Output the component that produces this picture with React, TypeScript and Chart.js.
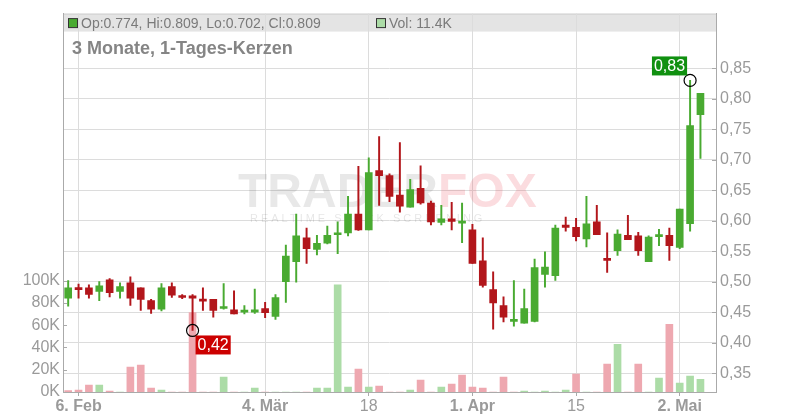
import React, { useEffect, useRef } from 'react';
import { Chart, registerables } from 'chart.js';

Chart.register(...registerables);

// Trading days (Frankfurt), plus one empty slot at the right
const dates = [
  '2025-02-05', '2025-02-06', '2025-02-07', '2025-02-10', '2025-02-11', '2025-02-12', '2025-02-13', '2025-02-14',
  '2025-02-17', '2025-02-18', '2025-02-19', '2025-02-20', '2025-02-21', '2025-02-24', '2025-02-25', '2025-02-26',
  '2025-02-27', '2025-02-28', '2025-03-03', '2025-03-04', '2025-03-05', '2025-03-06', '2025-03-07', '2025-03-10',
  '2025-03-11', '2025-03-12', '2025-03-13', '2025-03-14', '2025-03-17', '2025-03-18', '2025-03-19', '2025-03-20',
  '2025-03-21', '2025-03-24', '2025-03-25', '2025-03-26', '2025-03-27', '2025-03-28', '2025-03-31', '2025-04-01',
  '2025-04-02', '2025-04-03', '2025-04-04', '2025-04-07', '2025-04-08', '2025-04-09', '2025-04-10', '2025-04-11',
  '2025-04-14', '2025-04-15', '2025-04-16', '2025-04-17', '2025-04-22', '2025-04-23', '2025-04-24', '2025-04-25',
  '2025-04-28', '2025-04-29', '2025-04-30', '2025-05-02', '2025-05-05', '2025-05-06', '2025-05-07',
];

const tickLabels: Record<string, string> = {
  '2025-02-06': '6. Feb',
  '2025-03-04': '4. Mär',
  '2025-03-18': '18',
  '2025-04-01': '1. Apr',
  '2025-04-15': '15',
  '2025-05-02': '2. Mai',
};
const boldTicks = ['2025-02-06', '2025-03-04', '2025-04-01', '2025-05-02'];

const open = [
  0.473, 0.488, 0.490, 0.484, 0.503, 0.484, 0.498, 0.490, 0.469, 0.455, 0.492, 0.477, 0.477, 0.471, 0.471, 0.456,
  0.454, 0.450, 0.450, 0.456, 0.443, 0.500, 0.533, 0.572, 0.553, 0.563, 0.577, 0.580, 0.611, 0.585, 0.682, 0.674,
  0.642, 0.622, 0.653, 0.629, 0.597, 0.603, 0.596, 0.585, 0.534, 0.487, 0.461, 0.435, 0.432, 0.435, 0.512, 0.510,
  0.593, 0.589, 0.570, 0.598, 0.537, 0.551, 0.576, 0.575, 0.533, 0.574, 0.576, 0.556, 0.595, 0.774,
];
const high = [
  0.502, 0.496, 0.495, 0.500, 0.505, 0.498, 0.508, 0.490, 0.471, 0.497, 0.498, 0.479, 0.479, 0.490, 0.471, 0.497,
  0.485, 0.461, 0.488, 0.466, 0.479, 0.560, 0.611, 0.588, 0.576, 0.591, 0.598, 0.640, 0.689, 0.703, 0.738, 0.677,
  0.728, 0.668, 0.690, 0.632, 0.625, 0.630, 0.629, 0.594, 0.572, 0.516, 0.475, 0.502, 0.488, 0.537, 0.549, 0.593,
  0.606, 0.604, 0.640, 0.625, 0.580, 0.585, 0.609, 0.581, 0.575, 0.586, 0.588, 0.619, 0.830, 0.809,
];
const low = [
  0.460, 0.473, 0.473, 0.469, 0.475, 0.473, 0.461, 0.453, 0.448, 0.452, 0.474, 0.472, 0.420, 0.453, 0.442, 0.455,
  0.447, 0.447, 0.448, 0.441, 0.438, 0.466, 0.499, 0.530, 0.544, 0.562, 0.546, 0.575, 0.584, 0.585, 0.625, 0.631,
  0.614, 0.622, 0.627, 0.593, 0.593, 0.585, 0.564, 0.530, 0.491, 0.422, 0.434, 0.427, 0.432, 0.434, 0.491, 0.502,
  0.583, 0.567, 0.557, 0.577, 0.515, 0.543, 0.569, 0.543, 0.533, 0.559, 0.535, 0.554, 0.583, 0.702,
];
const close = [
  0.490, 0.487, 0.479, 0.493, 0.482, 0.492, 0.473, 0.471, 0.455, 0.490, 0.478, 0.474, 0.473, 0.468, 0.453, 0.458,
  0.447, 0.453, 0.454, 0.449, 0.474, 0.542, 0.575, 0.554, 0.563, 0.576, 0.580, 0.611, 0.585, 0.679, 0.674, 0.640,
  0.624, 0.651, 0.629, 0.598, 0.603, 0.599, 0.598, 0.530, 0.494, 0.465, 0.442, 0.436, 0.456, 0.523, 0.524, 0.588,
  0.589, 0.574, 0.595, 0.577, 0.535, 0.578, 0.569, 0.551, 0.573, 0.575, 0.559, 0.619, 0.756, 0.809,
];
// volume in thousands
const volumeK = [
  1.2, 1.8, 6.3, 6.3, 0.9, 0, 22.3, 24.1, 3.6, 1.8, 0, 0, 71.4, 0, 0, 13.4,
  0, 0, 3.6, 0, 0, 0, 0, 0, 3.6, 3.6, 96.4, 4.5, 20.5, 4.5, 5.4, 0,
  0, 1.8, 10.7, 0, 4.5, 7.1, 15.2, 4.5, 3.6, 0, 13.4, 0, 0.9, 0, 0.9, 0,
  1.8, 16.1, 0, 0, 25.0, 42.9, 0, 25.0, 0, 12.5, 60.7, 8.0, 14.3, 11.4,
];

const priceTicks = [0.35, 0.4, 0.45, 0.5, 0.55, 0.6, 0.65, 0.7, 0.75, 0.8, 0.85];
const volumeTicksK = [0, 20, 40, 60, 80, 100];

const GREEN = '#49aa31';
const RED = '#b2161b';
const VOL_GREEN = '#acdca7';
const VOL_RED = '#eea8b0';
const FONT = '"Liberation Sans", Arial, sans-serif';
const LABEL = '#9a9a9a';

const fmtComma = (v: number) => v.toFixed(2).replace('.', ',');

export default function App() {
  const ref = useRef<HTMLCanvasElement | null>(null);

  useEffect(() => {
    const canvas = ref.current;
    if (!canvas) return;
    document.body.style.margin = '0';

    const n = close.length;
    const candleColor = close.map((c, i) => (c >= open[i] ? GREEN : RED));
    const volColor = close.map((c, i) => (i > 0 && c >= close[i - 1] ? VOL_GREEN : VOL_RED));
    const last = n - 1;

    let lowIdx = 0;
    let highIdx = 0;
    for (let i = 0; i < n; i++) {
      if (low[i] < low[lowIdx]) lowIdx = i;
      if (high[i] > high[highIdx]) highIdx = i;
    }

    const tickIdx = dates.map((d, i) => (tickLabels[d] ? i : -1)).filter((i) => i >= 0);

    const decor = {
      id: 'decor',
      beforeDraw(chart: any) {
        const { ctx, chartArea } = chart;
        ctx.save();
        // header band
        ctx.fillStyle = '#e4e4e4';
        ctx.fillRect(chartArea.left, chartArea.top, chartArea.right - chartArea.left, 18);
        ctx.strokeStyle = '#cfcfcf';
        ctx.lineWidth = 1;
        ctx.beginPath();
        ctx.moveTo(chartArea.left, chartArea.top + 0.5);
        ctx.lineTo(chartArea.right, chartArea.top + 0.5);
        ctx.stroke();
        // legend entries
        const midY = chartArea.top + 9.5;
        ctx.fillStyle = GREEN;
        ctx.fillRect(68.5, midY - 4.5, 9, 9);
        ctx.strokeStyle = '#333';
        ctx.strokeRect(68.5, midY - 4.5, 9, 9);
        ctx.fillStyle = VOL_GREEN;
        ctx.fillRect(376.5, midY - 4.5, 9, 9);
        ctx.strokeRect(376.5, midY - 4.5, 9, 9);
        ctx.font = `14px ${FONT}`;
        ctx.fillStyle = '#7a7a7a';
        ctx.textBaseline = 'middle';
        ctx.textAlign = 'left';
        ctx.fillText(
          `Op:${open[last].toFixed(3)}, Hi:${high[last].toFixed(3)}, Lo:${low[last].toFixed(3)}, Cl:${close[last].toFixed(3)}`,
          81,
          midY + 1,
        );
        ctx.fillText(`Vol: ${volumeK[last]}K`, 389, midY + 1);
        ctx.restore();
      },
      beforeDatasetsDraw(chart: any) {
        const { ctx } = chart;
        ctx.save();
        // watermark
        ctx.textBaseline = 'alphabetic';
        ctx.textAlign = 'left';
        ctx.font = `bold 48px ${FONT}`;
        ctx.fillStyle = 'rgba(0,0,0,0.09)';
        ctx.fillText('TRADER', 238, 207);
        const w = ctx.measureText('TRADER').width;
        ctx.fillStyle = 'rgba(235,60,80,0.18)';
        ctx.fillText('FOX', 238 + w, 207);
        ctx.font = `11px ${FONT}`;
        (ctx as any).letterSpacing = '3px';
        ctx.fillStyle = 'rgba(0,0,0,0.1)';
        ctx.fillText('REALTIME STOCK SCREENING', 250, 222);
        (ctx as any).letterSpacing = '0px';
        // title
        ctx.font = `bold 18px ${FONT}`;
        ctx.fillStyle = '#858585';
        ctx.fillText('3 Monate, 1-Tages-Kerzen', 72, 54);
        ctx.restore();
      },
      afterDatasetsDraw(chart: any) {
        const { ctx, scales } = chart;
        const x = scales.x;
        const y = scales.y;
        const vol = scales.vol;
        ctx.save();
        // inner tick marks for left and right axes
        ctx.strokeStyle = '#aaa';
        ctx.lineWidth = 1;
        ctx.beginPath();
        vol.ticks.forEach((t: any) => {
          const py = Math.round(vol.getPixelForValue(t.value)) + 0.5;
          ctx.moveTo(vol.right, py);
          ctx.lineTo(vol.right + 4, py);
        });
        y.ticks.forEach((t: any) => {
          const py = Math.round(y.getPixelForValue(t.value)) + 0.5;
          ctx.moveTo(y.left - 4, py);
          ctx.lineTo(y.left, py);
        });
        ctx.stroke();

        ctx.font = `16px ${FONT}`;
        ctx.textBaseline = 'middle';
        ctx.textAlign = 'center';
        ctx.lineWidth = 1.2;
        // low marker
        const lx = x.getPixelForValue(lowIdx);
        const ly = y.getPixelForValue(low[lowIdx]);
        ctx.strokeStyle = '#000';
        ctx.beginPath();
        ctx.arc(lx, ly, 6, 0, Math.PI * 2);
        ctx.stroke();
        const lt = fmtComma(low[lowIdx]);
        const lw = ctx.measureText(lt).width + 4;
        ctx.fillStyle = '#cc0000';
        ctx.fillRect(lx + 3, ly + 5, lw, 19);
        ctx.fillStyle = '#fff';
        ctx.fillText(lt, lx + 3 + lw / 2, ly + 5 + 10);
        // high marker
        const hx = x.getPixelForValue(highIdx);
        const hy = y.getPixelForValue(high[highIdx]);
        ctx.strokeStyle = '#000';
        ctx.beginPath();
        ctx.arc(hx, hy, 6, 0, Math.PI * 2);
        ctx.stroke();
        const ht = fmtComma(high[highIdx]);
        const hw = ctx.measureText(ht).width + 4;
        ctx.fillStyle = '#109010';
        ctx.fillRect(hx - 3 - hw, hy - 5 - 19, hw, 19);
        ctx.fillStyle = '#fff';
        ctx.fillText(ht, hx - 3 - hw / 2, hy - 5 - 9);
        ctx.restore();
      },
    };

    const chart = new Chart(canvas, {
      type: 'bar',
      data: {
        labels: dates,
        datasets: [
          {
            label: 'Body',
            data: open.map((o, i) => [o, close[i]]) as any,
            backgroundColor: candleColor,
            barThickness: 7,
            minBarLength: 2,
            grouped: false,
            yAxisID: 'y',
            order: 1,
          },
          {
            label: 'Wick',
            data: low.map((l, i) => [l, high[i]]) as any,
            backgroundColor: candleColor,
            barThickness: 1.3,
            grouped: false,
            yAxisID: 'y',
            order: 2,
          },
          {
            label: 'Volume',
            data: volumeK,
            backgroundColor: volColor,
            barThickness: 7,
            grouped: false,
            yAxisID: 'vol',
            order: 3,
          },
        ],
      },
      options: {
        responsive: false,
        animation: false,
        events: [],
        layout: { padding: { top: 11, left: 0, right: 0, bottom: 0 } },
        plugins: { legend: { display: false }, tooltip: { enabled: false }, title: { display: false } },
        scales: {
          x: {
            type: 'category',
            offset: true,
            afterFit: (s: any) => {
              s.height = 28;
            },
            afterBuildTicks: (s: any) => {
              s.ticks = tickIdx.map((i) => ({ value: i }));
            },
            grid: { offset: false, color: '#dcdcdc', tickColor: '#aaa', tickLength: 4, drawTicks: true },
            border: { display: true, color: '#aaa' },
            ticks: {
              autoSkip: false,
              maxRotation: 0,
              padding: 1,
              color: LABEL,
              callback: (v: any) => tickLabels[dates[v as number]] ?? '',
              font: (c: any) => ({
                family: FONT,
                size: 16,
                weight: c.tick && boldTicks.includes(dates[c.tick.value]) ? 'bold' : 'normal',
              }),
            },
          },
          y: {
            type: 'linear',
            position: 'right',
            min: 0.3191,
            max: 0.9396,
            afterFit: (s: any) => {
              s.width = 84;
            },
            afterBuildTicks: (s: any) => {
              s.ticks = priceTicks.map((v) => ({ value: v }));
            },
            grid: { color: '#dcdcdc', drawTicks: false },
            border: { display: true, color: '#aaa' },
            ticks: {
              padding: 4,
              color: LABEL,
              font: { family: FONT, size: 16 },
              callback: (v: any) => fmtComma(Number(v)),
            },
          },
          vol: {
            type: 'linear',
            position: 'left',
            min: 0,
            max: 340,
            afterFit: (s: any) => {
              s.width = 63;
            },
            afterBuildTicks: (s: any) => {
              s.ticks = volumeTicksK.map((v) => ({ value: v }));
            },
            grid: { display: false, drawTicks: false },
            border: { display: true, color: '#aaa' },
            ticks: {
              padding: 3,
              color: LABEL,
              font: { family: FONT, size: 16 },
              callback: (v: any) => `${v}K`,
            },
          },
        },
      },
      plugins: [decor],
    });

    return () => chart.destroy();
  }, []);

  return (
    <div style={{ position: 'fixed', left: 0, top: 0, width: 800, height: 420, background: '#fff' }}>
      <canvas ref={ref} width={800} height={420} />
    </div>
  );
}
